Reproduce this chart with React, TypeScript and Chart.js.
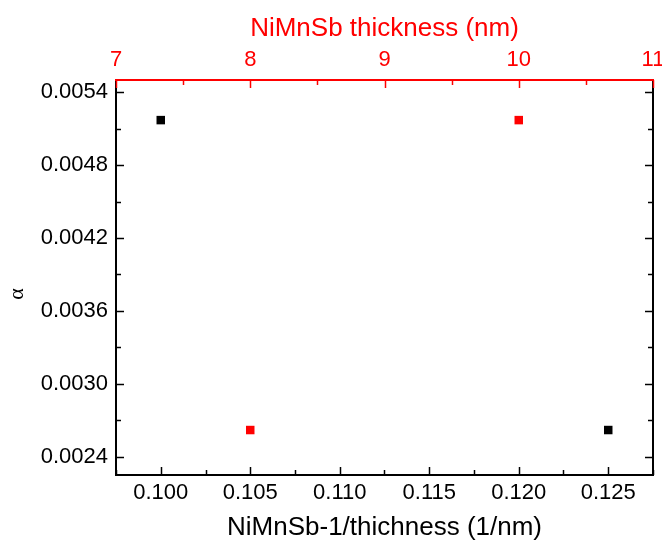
import React, { useEffect, useRef } from "react";
import { Chart, registerables } from "chart.js";

Chart.register(...registerables);

// ---- data ----
const invThickness = [0.1, 0.125]; // 1/nm (bottom axis)
const alphaBlack = [0.00517, 0.00262];
const thickness = [8, 10]; // nm (top axis)
const alphaRed = [0.00262, 0.00517];

const xTicks = [0.1, 0.105, 0.11, 0.115, 0.12, 0.125];
const x2Ticks = [7, 8, 9, 10, 11];
const yTicks = [0.0024, 0.003, 0.0036, 0.0042, 0.0048, 0.0054];

const X_MIN = 0.0975, X_MAX = 0.1275;
const X2_MIN = 7, X2_MAX = 11;
const Y_MIN = 0.00225, Y_MAX = 0.0055;

const RED = "#ff0000";
const TICK_FONT = { family: "'Liberation Sans', Arial, sans-serif", size: 22 };
const TITLE_FONT = { family: "'Liberation Sans', Arial, sans-serif", size: 26 };

const PLOT = { left: 116, right: 653, top: 80, bottom: 475 };
const W = 662, H = 547;

function withMinors(ticks: number[], min: number, max: number) {
  const step = ticks[1] - ticks[0];
  const minors: number[] = [];
  for (let i = -1; i < ticks.length; i++) {
    const v = ticks[0] + (i + 0.5) * step;
    if (v >= min - 1e-12 && v <= max + 1e-12) minors.push(v);
  }
  return minors;
}

const zeroPad = (s: any) => {
  s.paddingLeft = 0;
  s.paddingRight = 0;
  s.paddingTop = 0;
  s.paddingBottom = 0;
};

const tickPlugin = {
  id: "inwardTicks",
  afterDraw(chart: any) {
    const ctx = chart.ctx;
    const { x, x2, y } = chart.scales;
    const ca = chart.chartArea;
    const MAJ = 8, MIN = 5;
    ctx.save();
    ctx.lineWidth = 1.5;
    ctx.strokeStyle = "#000";
    const drawV = (scale: any, vals: number[], len: number, base: number, dir: number) => {
      vals.forEach((v) => {
        const px = Math.round(scale.getPixelForValue(v)) + 0.5;
        ctx.beginPath();
        ctx.moveTo(px, base);
        ctx.lineTo(px, base + dir * len);
        ctx.stroke();
      });
    };
    const drawH = (scale: any, vals: number[], len: number, base: number, dir: number) => {
      vals.forEach((v) => {
        const py = Math.round(scale.getPixelForValue(v)) + 0.5;
        ctx.beginPath();
        ctx.moveTo(base, py);
        ctx.lineTo(base + dir * len, py);
        ctx.stroke();
      });
    };
    drawV(x, xTicks, MAJ, ca.bottom, -1);
    drawV(x, withMinors(xTicks, X_MIN, X_MAX), MIN, ca.bottom, -1);
    drawH(y, yTicks, MAJ, ca.left, 1);
    drawH(y, withMinors(yTicks, Y_MIN, Y_MAX), MIN, ca.left, 1);
    drawH(y, yTicks, MAJ, ca.right, -1);
    drawH(y, withMinors(yTicks, Y_MIN, Y_MAX), MIN, ca.right, -1);
    // right axis line
    ctx.lineWidth = 2;
    ctx.beginPath();
    ctx.moveTo(ca.right, ca.top);
    ctx.lineTo(ca.right, ca.bottom + 1);
    ctx.stroke();
    // top
    ctx.lineWidth = 1.5;
    ctx.strokeStyle = RED;
    drawV(x2, x2Ticks, MAJ, ca.top, 1);
    drawV(x2, withMinors(x2Ticks, X2_MIN, X2_MAX), MIN, ca.top, 1);
    ctx.lineWidth = 2;
    ctx.beginPath();
    ctx.moveTo(ca.left - 1, ca.top);
    ctx.lineTo(ca.right + 1, ca.top);
    ctx.stroke();
    ctx.restore();
  },
};

export default function App() {
  const ref = useRef<HTMLCanvasElement>(null);
  useEffect(() => {
    if (!ref.current) return;
    const chart = new Chart(ref.current, {
      type: "scatter",
      data: {
        datasets: [
          {
            label: "black",
            data: invThickness.map((v, i) => ({ x: v, y: alphaBlack[i] })),
            xAxisID: "x",
            yAxisID: "y",
            backgroundColor: "#000",
            borderWidth: 0,
            pointStyle: "rect",
            pointRadius: 6,
          },
          {
            label: "red",
            data: thickness.map((v, i) => ({ x: v, y: alphaRed[i] })),
            xAxisID: "x2",
            yAxisID: "y",
            backgroundColor: RED,
            borderWidth: 0,
            pointStyle: "rect",
            pointRadius: 6,
          },
        ],
      },
      options: {
        animation: false,
        responsive: false,
        layout: { padding: 0 },
        plugins: { legend: { display: false }, tooltip: { enabled: false } },
        scales: {
          x: {
            type: "linear",
            position: "bottom",
            min: X_MIN,
            max: X_MAX,
            afterBuildTicks: (s: any) => { s.ticks = xTicks.map((v) => ({ value: v })); },
            afterFit: (s: any) => { s.height = H - PLOT.bottom; zeroPad(s); },
            grid: { display: false, drawTicks: false },
            border: { color: "#000", width: 2 },
            ticks: {
              color: "#000",
              font: TICK_FONT,
              padding: 5,
              maxRotation: 0,
              autoSkip: false,
              callback: (v: any) => Number(v).toFixed(3),
            },
            title: {
              display: true,
              text: "NiMnSb-1/thichness (1/nm)",
              color: "#000",
              font: TITLE_FONT,
              padding: { top: 0, bottom: 4 },
            },
          },
          x2: {
            type: "linear",
            position: "top",
            min: X2_MIN,
            max: X2_MAX,
            afterBuildTicks: (s: any) => { s.ticks = x2Ticks.map((v) => ({ value: v })); },
            afterFit: (s: any) => { s.height = PLOT.top; zeroPad(s); },
            grid: { display: false, drawTicks: false },
            border: { color: RED, width: 2 },
            ticks: {
              color: RED,
              font: TICK_FONT,
              padding: 7,
              maxRotation: 0,
              autoSkip: false,
              callback: (v: any) => String(v),
            },
            title: {
              display: true,
              text: "NiMnSb thickness (nm)",
              color: RED,
              font: TITLE_FONT,
              padding: { top: 13, bottom: 0 },
            },
          },
          y: {
            type: "linear",
            position: "left",
            min: Y_MIN,
            max: Y_MAX,
            afterBuildTicks: (s: any) => { s.ticks = yTicks.map((v) => ({ value: v })); },
            afterFit: (s: any) => { s.width = PLOT.left; zeroPad(s); },
            grid: { display: false, drawTicks: false },
            border: { color: "#000", width: 2 },
            ticks: {
              color: "#000",
              font: TICK_FONT,
              padding: 8,
              autoSkip: false,
              callback: (v: any) => Number(v).toFixed(4),
            },
            title: {
              display: true,
              text: "α      ",
              color: "#000",
              font: { family: "'Liberation Serif', serif", size: 22 },
              padding: { top: 4, bottom: 0 },
            },
          },
          yR: {
            type: "linear",
            position: "right",
            min: Y_MIN,
            max: Y_MAX,
            display: true,
            afterFit: (s: any) => { s.width = W - PLOT.right; zeroPad(s); },
            grid: { display: false, drawTicks: false },
            border: { display: false },
            ticks: { display: false },
          },
        },
      },
      plugins: [tickPlugin],
    });
    return () => chart.destroy();
  }, []);
  return (
    <div style={{ position: "absolute", left: 0, top: 0, width: W, height: H, background: "#fff" }}>
      <canvas ref={ref} width={W} height={H} style={{ width: W, height: H, display: "block" }} />
    </div>
  );
}
